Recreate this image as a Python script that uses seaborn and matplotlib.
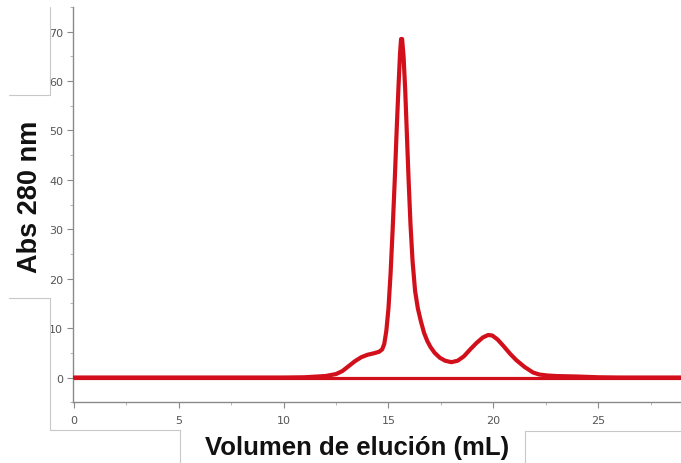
import numpy as np
import pandas as pd
import matplotlib
matplotlib.use("Agg")
import matplotlib.pyplot as plt
from matplotlib.lines import Line2D
import seaborn as sns

vol_ml = [0, 5, 10, 11, 12, 12.5, 12.8, 13.1, 13.4, 13.7, 14.0, 14.3,
          14.55, 14.7, 14.8, 14.9, 15.0, 15.1, 15.2, 15.3, 15.4, 15.48,
          15.55, 15.6, 15.65, 15.72, 15.8, 15.88, 15.96, 16.05, 16.15,
          16.27, 16.4, 16.55, 16.7, 16.85, 17.0, 17.2, 17.45, 17.7, 18.0,
          18.3, 18.6, 18.9, 19.2, 19.5, 19.75, 19.95, 20.2, 20.5, 20.8,
          21.1, 21.5, 21.9, 22.2, 22.6, 23.0, 24.0, 25.0, 26.0, 29.0]
abs280 = [0, 0, 0, 0.05, 0.3, 0.7, 1.3, 2.3, 3.3, 4.1, 4.6, 4.9,
          5.2, 5.7, 6.8, 9.5, 14, 21, 30, 40, 51, 59,
          65.5, 68.5, 68.5, 65, 58, 49, 40, 31, 23.5,
          17.5, 14, 11.3, 9.0, 7.4, 6.2, 5.0, 4.0, 3.4, 3.1,
          3.4, 4.3, 5.7, 7.0, 8.1, 8.6, 8.5, 7.7, 6.3, 4.8,
          3.5, 2.1, 1.0, 0.6, 0.4, 0.3, 0.2, 0.05, 0, 0]
baseline_y = 0

x_ticks = [0, 5, 10, 15, 20, 25]
y_ticks = [0, 10, 20, 30, 40, 50, 60, 70]

df = pd.DataFrame({"vol": vol_ml, "abs": abs280})

sns.set_theme(style="white")
plt.rcParams["font.family"] = ["DejaVu Sans"]

red = "#d2101c"
fig = plt.figure(figsize=(6.81, 4.64), dpi=100)
ax = fig.add_axes([0.107, 0.131, 0.893, 0.852])

ax.axhline(baseline_y, color=red, lw=2.3, zorder=2)
sns.lineplot(data=df, x="vol", y="abs", ax=ax, color=red, lw=3.0,
             sort=False, zorder=3, solid_joinstyle="round",
             solid_capstyle="round")

ax.set_xlim(-0.05, 28.95)
ax.set_ylim(-5, 74)
ax.set_xticks(x_ticks)
ax.set_yticks(y_ticks)
ax.set_xticks([t + 2.5 for t in x_ticks], minor=True)
ax.set_yticks([t + 5 for t in y_ticks] + [-5], minor=True)
ax.set_xlabel("")
ax.set_ylabel("")
sns.despine(ax=ax)
for side in ["left", "bottom"]:
    ax.spines[side].set_color("#8a8a8a")
    ax.spines[side].set_linewidth(1.0)
ax.tick_params(which="major", direction="out", length=4, width=0.8,
               color="#8a8a8a", labelsize=8, labelcolor="#555555", pad=3,
               bottom=True, left=True)
ax.tick_params(which="minor", direction="out", length=2, width=0.6,
               color="#aaaaaa", bottom=True, left=True)
ax.tick_params(axis="x", pad=5)

# etiquetas de ejes (pegadas como cajas en el original)
fig.text(357 / 681, 1 - 448 / 464, "Volumen de elución (mL)",
         family=["Liberation Sans", "DejaVu Sans"], fontweight="bold",
         fontsize=18.5, ha="center", va="center", color="#111111")
fig.text(30 / 681, 1 - 197 / 464, "Abs 280 nm", rotation=90,
         family=["Liberation Sans", "DejaVu Sans"], fontweight="bold",
         fontsize=19.5, ha="center", va="center", color="#111111")

# bordes de las cajas de las etiquetas
box_col = "#c8c8c8"
W, H = 681, 464
segs = [
    ((50, 8), (50, 96)), ((9, 96), (50, 96)),
    ((9, 299), (50, 299)), ((50, 299), (50, 431)),
    ((50, 431), (180, 431)), ((180, 431), (180, 464)),
    ((525, 432), (525, 464)), ((525, 432), (681, 432)),
]
for (x0, y0), (x1, y1) in segs:
    fig.add_artist(Line2D([x0 / W, x1 / W], [1 - y0 / H, 1 - y1 / H],
                          transform=fig.transFigure, color=box_col, lw=0.8))

fig.savefig("out.png", dpi=100)
